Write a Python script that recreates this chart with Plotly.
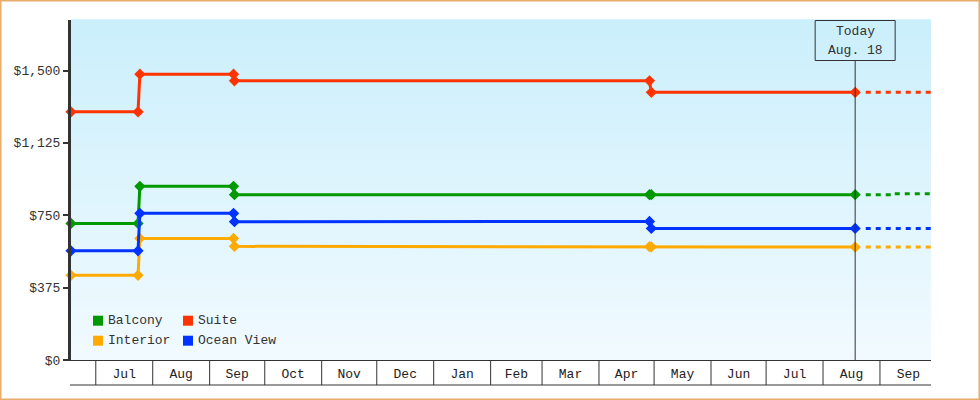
import plotly.graph_objects as go
import pandas as pd

# ---------------- data ----------------
dates = ["2014-06-17 12:00", "2014-07-24", "2014-07-25", "2014-09-14",
         "2014-09-14 12:00", "2015-04-28 12:00", "2015-04-29 12:00", "2015-08-18 12:00"]
balcony = [708, 708, 900, 900, 857, 857, 857, 857]
suite = [1286, 1286, 1481, 1481, 1447, 1447, 1387, 1387]
interior = [439, 439, 630, 630, 589, 587, 586, 585]
ocean_view = [566, 566, 760, 760, 717, 718, 682, 682]

forecast_dates = ["2015-08-24 06:00", "2015-09-07 16:00", "2015-09-28 19:00"]
balcony_fc = [857, 862, 862]
suite_fc = [1387, 1387, 1387]
interior_fc = [585, 585, 585]
ocean_view_fc = [682, 682, 682]

series_names = ["Balcony", "Suite", "Interior", "Ocean View"]
series_colors = ["#009900", "#ff3300", "#ffaa00", "#0033ff"]
y_ticks = [0, 375, 750, 1125, 1500]
y_tick_text = ["$0", "$375", "$750", "$1,125", "$1,500"]
x_range = ["2014-06-17 12:00", "2015-09-28 19:00"]
y_range = [0, 1762]
today = "2015-08-18 12:00"
today_lines = ["Today", "Aug. 18"]

# ---------------- layout helpers ----------------
W, H = 980, 400
ML, MR, MT, MB = 71, 49, 20, 40
PW, PH = W - ML - MR, H - MT - MB
FONT = "Liberation Mono"
TXT = "#333333"


def px2x(px):
    return (px - ML) / PW


def py2y(py):
    return (H - MB - py) / PH


fig = go.Figure()

hist = [balcony, suite, interior, ocean_view]
fc = [balcony_fc, suite_fc, interior_fc, ocean_view_fc]
for name, col, h, f in zip(series_names, series_colors, hist, fc):
    fig.add_trace(go.Scatter(
        x=dates, y=h, mode="lines+markers", name=name,
        line=dict(color=col, width=3),
        marker=dict(symbol="diamond", size=7, color=col,
                    line=dict(color=col, width=1.5)),
        showlegend=False, cliponaxis=False))
    fig.add_trace(go.Scatter(
        x=forecast_dates, y=f, mode="lines", name=name + " forecast",
        line=dict(color=col, width=3, dash="5px,5px", shape="hv"),
        showlegend=False))

shapes = []
# gradient background
top = (203, 239, 252)
bot = (241, 250, 255)
n = 68
for i in range(n):
    t = i / (n - 1)
    c = tuple(round(bot[k] + (top[k] - bot[k]) * t) for k in range(3))
    shapes.append(dict(type="rect", xref="paper", yref="paper",
                       x0=0, x1=1, y0=i / n, y1=(i + 1) / n + 0.002,
                       fillcolor="rgb(%d,%d,%d)" % c, line=dict(width=0),
                       layer="below"))

# month boundary ticks in the axis band
month_starts = pd.date_range("2014-07-01", "2015-09-01", freq="MS")
for d in month_starts:
    shapes.append(dict(type="line", xref="x", yref="paper",
                       x0=d, x1=d, y0=py2y(360), y1=py2y(385),
                       line=dict(color=TXT, width=1)))
# bottom line of axis band
shapes.append(dict(type="line", xref="paper", yref="paper",
                   x0=px2x(70), x1=1, y0=py2y(385), y1=py2y(385),
                   line=dict(color=TXT, width=1)))
# today line
shapes.append(dict(type="line", xref="x", yref="paper",
                   x0=today, x1=today, y0=0, y1=py2y(60.5),
                   line=dict(color=TXT, width=1)))
# today box
shapes.append(dict(type="rect", xref="x", xsizemode="pixel", xanchor=today,
                   x0=-40, x1=40, yref="paper", y0=py2y(60.5), y1=py2y(20.5),
                   fillcolor="rgba(0,0,0,0)", line=dict(color=TXT, width=1)))
# outer border
shapes.append(dict(type="rect", xref="paper", yref="paper",
                   x0=px2x(0.75), x1=px2x(979.25), y0=py2y(399.25), y1=py2y(0.75),
                   line=dict(color="#e8ac6c", width=1.5)))

annotations = []
# legend (manual, 2x2)
leg_pos = [(93, 320.7), (183, 320.7), (93, 340.7), (183, 340.7)]
for name, col, (lx, ly) in zip(series_names, series_colors, leg_pos):
    shapes.append(dict(type="rect", xref="paper", yref="paper",
                       x0=px2x(lx), x1=px2x(lx + 10),
                       y0=py2y(ly + 5), y1=py2y(ly - 5),
                       fillcolor=col, line=dict(width=0)))
    annotations.append(dict(xref="paper", yref="paper", x=px2x(lx + 13), y=py2y(ly),
                            text=name, showarrow=False, xanchor="left", yanchor="middle",
                            font=dict(family=FONT, size=13, color=TXT)))

# today text
for txt, ty in zip(today_lines, [31.5, 50.5]):
    annotations.append(dict(xref="x", yref="paper", x=today, y=py2y(ty),
                            yanchor="middle", xanchor="center", text=txt,
                            showarrow=False,
                            font=dict(family=FONT, size=13, color=TXT)))

fig.update_layout(
    width=W, height=H,
    margin=dict(l=ML, r=MR, t=MT, b=MB),
    paper_bgcolor="white", plot_bgcolor="rgba(0,0,0,0)",
    font=dict(family=FONT, size=13, color=TXT),
    shapes=shapes, annotations=annotations,
    showlegend=False,
    xaxis=dict(type="date", range=x_range, showgrid=False, zeroline=False,
               showline=True, linecolor=TXT, linewidth=1,
               dtick="M1", tick0="2014-07-01", tickformat="%b",
               ticklabelmode="period", ticks="", ticklabelstandoff=1,
               tickfont=dict(family=FONT, size=13, color="#222222")),
    yaxis=dict(range=y_range, showgrid=False, zeroline=False,
               showline=True, linecolor=TXT, linewidth=3,
               tickvals=y_ticks, ticktext=y_tick_text,
               ticks="outside", ticklen=5, tickwidth=2, tickcolor=TXT,
               tickfont=dict(family=FONT, size=13, color=TXT)),
)

fig.write_html("out.html", config={"displayModeBar": False},
               post_script="document.body.style.margin='0';")
